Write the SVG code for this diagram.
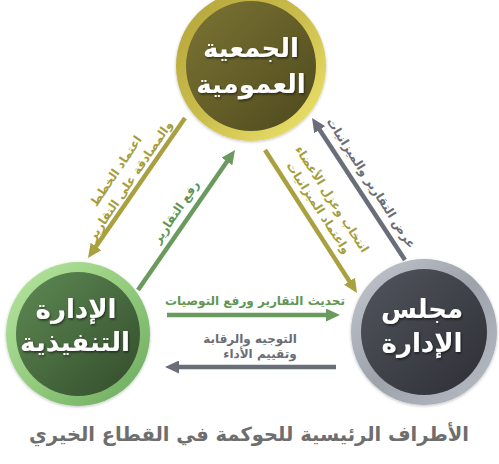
<svg xmlns="http://www.w3.org/2000/svg" width="499" height="464" viewBox="0 0 499 464">
<defs>
<style>
.ar{font-family:"DejaVu Sans","Noto Sans",sans-serif;}
.node{fill:#ffffff;font-size:26px;font-weight:bold;text-anchor:middle;filter:url(#ts);}
.lbl{font-size:12px;font-weight:bold;text-anchor:middle;}
.olive{fill:#a69d3b;}
.green{fill:#5f9653;}
.gray{fill:#6a6d76;}
.ln{stroke-width:4.5;fill:none;}
</style>
<filter id="ts" x="-20%" y="-20%" width="140%" height="140%">
<feDropShadow dx="1" dy="1.5" stdDeviation="1" flood-color="#000" flood-opacity="0.55"/>
</filter>
<filter id="cs" x="-20%" y="-20%" width="140%" height="140%">
<feDropShadow dx="0" dy="1" stdDeviation="1.5" flood-color="#000" flood-opacity="0.25"/>
</filter>
<linearGradient id="ringY" x1="0" y1="0" x2="1" y2="1">
<stop offset="0" stop-color="#b3a33a"/><stop offset="0.5" stop-color="#cbbd4c"/><stop offset="1" stop-color="#f0e76e"/>
</linearGradient>
<linearGradient id="inY" x1="0" y1="0" x2="1" y2="1">
<stop offset="0" stop-color="#7c7434"/><stop offset="1" stop-color="#4e491d"/>
</linearGradient>
<linearGradient id="ringG" x1="0" y1="0" x2="1" y2="1">
<stop offset="0" stop-color="#b8e6a0"/><stop offset="0.5" stop-color="#94cc7e"/><stop offset="1" stop-color="#6aa85c"/>
</linearGradient>
<linearGradient id="inG" x1="0" y1="0" x2="1" y2="1">
<stop offset="0" stop-color="#5f8a54"/><stop offset="1" stop-color="#324c2b"/>
</linearGradient>
<linearGradient id="ringS" x1="0" y1="0" x2="1" y2="1">
<stop offset="0" stop-color="#c4c8cf"/><stop offset="0.5" stop-color="#9ea2ab"/><stop offset="1" stop-color="#b8bcc4"/>
</linearGradient>
<linearGradient id="inS" x1="0" y1="0" x2="1" y2="1">
<stop offset="0" stop-color="#52555d"/><stop offset="1" stop-color="#2d2f35"/>
</linearGradient>
<marker id="mO" markerUnits="userSpaceOnUse" markerWidth="14" markerHeight="13" refX="4" refY="6.5" orient="auto"><path d="M0,0 L14,6.5 L0,13 z" fill="#a9a040"/></marker>
<marker id="mG" markerUnits="userSpaceOnUse" markerWidth="14" markerHeight="13" refX="4" refY="6.5" orient="auto"><path d="M0,0 L14,6.5 L0,13 z" fill="#6a9a5e"/></marker>
<marker id="mS" markerUnits="userSpaceOnUse" markerWidth="14" markerHeight="13" refX="4" refY="6.5" orient="auto"><path d="M0,0 L14,6.5 L0,13 z" fill="#6a6e78"/></marker>
</defs>
<rect width="499" height="464" fill="#ffffff"/>

<g id="connectors">
<line class="ln" x1="185" y1="118" x2="93.7" y2="249.8" stroke="#a9a040" marker-end="url(#mO)"/>
<line class="ln" x1="138" y1="290" x2="229.3" y2="158.2" stroke="#6a9a5e" marker-end="url(#mG)"/>
<line class="ln" x1="265" y1="150" x2="351.6" y2="284.6" stroke="#a9a040" marker-end="url(#mO)"/>
<line class="ln" x1="405" y1="260" x2="317.5" y2="126.4" stroke="#6a6e78" marker-end="url(#mS)"/>
<line class="ln" x1="167" y1="315" x2="330" y2="315" stroke="#6a9a5e" marker-end="url(#mG)"/>
<line class="ln" x1="336" y1="367" x2="175" y2="367" stroke="#6a6e78" marker-end="url(#mS)"/>

<text class="ar lbl olive" transform="translate(122,175) rotate(-56)"><tspan x="0" y="-3">اعتماد الخطط</tspan><tspan x="0" y="14">والمصادقة على التقارير</tspan></text>
<text class="ar lbl green" transform="translate(176,212) rotate(-56)"><tspan x="0" y="4">رفع التقارير</tspan></text>
<text class="ar lbl gray" transform="translate(371,183) rotate(57)"><tspan x="0" y="4">عرض التقارير والميزانيات</tspan></text>
<text class="ar lbl olive" transform="translate(326,203) rotate(57)"><tspan x="0" y="-3">انتخاب وعزل الأعضاء</tspan><tspan x="0" y="13">واعتماد الميزانيات</tspan></text>
<text class="ar lbl green" x="255" y="305">تحديث التقارير ورفع التوصيات</text>
<text class="ar lbl gray" x="250" y="343">التوجيه والرقابة</text>
<text class="ar lbl gray" x="260" y="358">وتقييم الأداء</text>
</g>

<g id="node-general-assembly">
<circle cx="251" cy="66" r="75" fill="url(#ringY)" filter="url(#cs)"/>
<circle cx="251" cy="66" r="65" fill="url(#inY)"/>
<text class="ar node" x="251" y="57">الجمعية</text>
<text class="ar node" x="251" y="93">العمومية</text>
</g>

<g id="node-executive">
<circle cx="78" cy="334" r="72" fill="url(#ringG)" filter="url(#cs)"/>
<circle cx="78" cy="334" r="62" fill="url(#inG)"/>
<text class="ar node" x="76" y="318">الإدارة</text>
<text class="ar node" x="75" y="351">التنفيذية</text>
</g>

<g id="node-board">
<circle cx="424" cy="332" r="73" fill="url(#ringS)" filter="url(#cs)"/>
<circle cx="424" cy="332" r="63" fill="url(#inS)"/>
<text class="ar node" x="422" y="318">مجلس</text>
<text class="ar node" x="422" y="352">الإدارة</text>
</g>

<text class="ar" x="249" y="441" text-anchor="middle" font-size="19.5" font-weight="bold" fill="#6e6e6e">الأطراف الرئيسية للحوكمة في القطاع الخيري</text>
</svg>
